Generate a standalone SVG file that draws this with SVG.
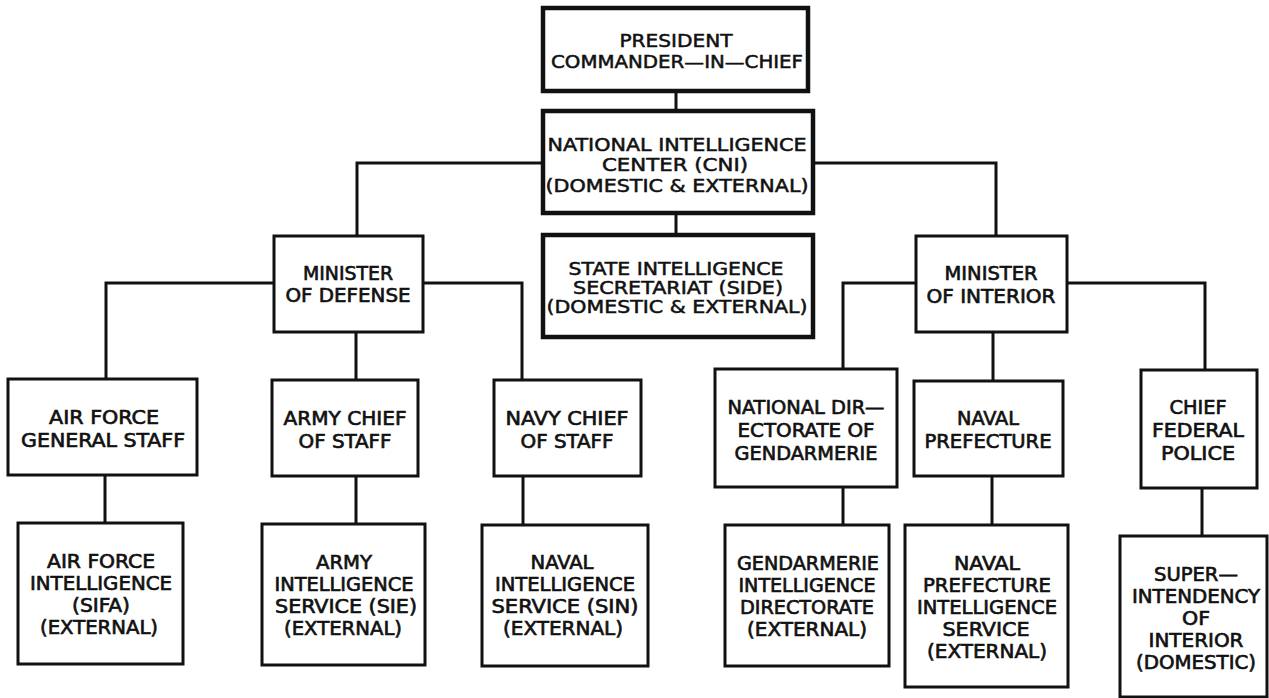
<svg xmlns="http://www.w3.org/2000/svg" width="1269" height="698" viewBox="0 0 1269 698">
<style>
.bx{fill:#fff;stroke:#111;stroke-width:3}
.bxt{fill:#fff;stroke:#111;stroke-width:4.5}
.ln{fill:none;stroke:#111;stroke-width:3;stroke-linecap:square}
.t{font-family:"DejaVu Sans Condensed","DejaVu Sans",sans-serif;font-stretch:condensed;font-size:19px;fill:#111;stroke:#111;stroke-width:0.6;text-anchor:middle}
.tt{font-family:"DejaVu Sans","Liberation Sans",sans-serif;font-size:17px;fill:#111;stroke:#111;stroke-width:0.5;text-anchor:middle}
</style>
<rect width="1269" height="698" fill="#fff"/>
<g id="connectors">
<path class="ln" d="M676 91V111"/>
<path class="ln" d="M676 213V235"/>
<path class="ln" d="M543 163H357V236"/>
<path class="ln" d="M813 163H996V236"/>
<path class="ln" d="M274 283H106V379"/>
<path class="ln" d="M356 332V380"/>
<path class="ln" d="M423 283H522V380"/>
<path class="ln" d="M916 283H843V369"/>
<path class="ln" d="M993 332V381"/>
<path class="ln" d="M1067 283H1205V370"/>
<path class="ln" d="M105 475V523"/>
<path class="ln" d="M356 476V524"/>
<path class="ln" d="M523 476V525"/>
<path class="ln" d="M843 487V525"/>
<path class="ln" d="M992 476V525"/>
<path class="ln" d="M1202 488V536"/>
</g>
<g id="president">
<rect class="bxt" x="543" y="8" width="265" height="83"/>
<text class="tt" x="676" y="47" textLength="113" lengthAdjust="spacingAndGlyphs">PRESIDENT</text>
<text class="tt" x="677" y="68" textLength="252" lengthAdjust="spacingAndGlyphs">COMMANDER—IN—CHIEF</text>
</g>
<g id="cni">
<rect class="bxt" x="543" y="111" width="270" height="102"/>
<text class="tt" x="677" y="151" textLength="259" lengthAdjust="spacingAndGlyphs">NATIONAL INTELLIGENCE</text>
<text class="tt" x="675" y="171" textLength="146" lengthAdjust="spacingAndGlyphs">CENTER (CNI)</text>
<text class="tt" x="677" y="192" textLength="263" lengthAdjust="spacingAndGlyphs">(DOMESTIC &amp; EXTERNAL)</text>
</g>
<g id="side">
<rect class="bxt" x="543" y="235" width="270" height="102"/>
<text class="tt" x="676" y="275" textLength="215" lengthAdjust="spacingAndGlyphs">STATE INTELLIGENCE</text>
<text class="tt" x="678" y="294" textLength="210" lengthAdjust="spacingAndGlyphs">SECRETARIAT (SIDE)</text>
<text class="tt" x="677" y="313" textLength="261" lengthAdjust="spacingAndGlyphs">(DOMESTIC &amp; EXTERNAL)</text>
</g>
<g id="min-defense">
<rect class="bx" x="274" y="236" width="149" height="96"/>
<text class="t" x="348" y="280" textLength="90" lengthAdjust="spacingAndGlyphs">MINISTER</text>
<text class="t" x="348" y="302" textLength="125" lengthAdjust="spacingAndGlyphs">OF DEFENSE</text>
</g>
<g id="min-interior">
<rect class="bx" x="916" y="236" width="151" height="96"/>
<text class="t" x="991" y="280" textLength="93" lengthAdjust="spacingAndGlyphs">MINISTER</text>
<text class="t" x="991" y="303" textLength="129" lengthAdjust="spacingAndGlyphs">OF INTERIOR</text>
</g>
<g id="af-staff">
<rect class="bx" x="8" y="379" width="189" height="96"/>
<text class="t" x="104" y="424" textLength="110" lengthAdjust="spacingAndGlyphs">AIR FORCE</text>
<text class="t" x="103" y="447" textLength="164" lengthAdjust="spacingAndGlyphs">GENERAL STAFF</text>
</g>
<g id="army-chief">
<rect class="bx" x="272" y="380" width="146" height="96"/>
<text class="t" x="345" y="425" textLength="123" lengthAdjust="spacingAndGlyphs">ARMY CHIEF</text>
<text class="t" x="345" y="448" textLength="93" lengthAdjust="spacingAndGlyphs">OF STAFF</text>
</g>
<g id="navy-chief">
<rect class="bx" x="494" y="380" width="147" height="96"/>
<text class="t" x="567" y="425" textLength="123" lengthAdjust="spacingAndGlyphs">NAVY CHIEF</text>
<text class="t" x="567" y="448" textLength="93" lengthAdjust="spacingAndGlyphs">OF STAFF</text>
</g>
<g id="gendarmerie">
<rect class="bx" x="715" y="369" width="182" height="118"/>
<text class="t" x="806" y="414" textLength="157" lengthAdjust="spacingAndGlyphs">NATIONAL DIR—</text>
<text class="t" x="806" y="437" textLength="137" lengthAdjust="spacingAndGlyphs">ECTORATE OF</text>
<text class="t" x="806" y="460" textLength="143" lengthAdjust="spacingAndGlyphs">GENDARMERIE</text>
</g>
<g id="naval-prefecture">
<rect class="bx" x="914" y="381" width="149" height="95"/>
<text class="t" x="988" y="425" textLength="62" lengthAdjust="spacingAndGlyphs">NAVAL</text>
<text class="t" x="988" y="448" textLength="127" lengthAdjust="spacingAndGlyphs">PREFECTURE</text>
</g>
<g id="federal-police">
<rect class="bx" x="1141" y="370" width="116" height="118"/>
<text class="t" x="1198" y="414" textLength="57" lengthAdjust="spacingAndGlyphs">CHIEF</text>
<text class="t" x="1198" y="437" textLength="92" lengthAdjust="spacingAndGlyphs">FEDERAL</text>
<text class="t" x="1198" y="460" textLength="74" lengthAdjust="spacingAndGlyphs">POLICE</text>
</g>
<g id="af-intel">
<rect class="bx" x="18" y="523" width="165" height="141"/>
<text class="t" x="101" y="568" textLength="108" lengthAdjust="spacingAndGlyphs">AIR FORCE</text>
<text class="t" x="101" y="590" textLength="142" lengthAdjust="spacingAndGlyphs">INTELLIGENCE</text>
<text class="t" x="101" y="612" textLength="58" lengthAdjust="spacingAndGlyphs">(SIFA)</text>
<text class="t" x="99" y="634" textLength="118" lengthAdjust="spacingAndGlyphs">(EXTERNAL)</text>
</g>
<g id="army-intel">
<rect class="bx" x="262" y="524" width="163" height="141"/>
<text class="t" x="344" y="569" textLength="56" lengthAdjust="spacingAndGlyphs">ARMY</text>
<text class="t" x="344" y="591" textLength="139" lengthAdjust="spacingAndGlyphs">INTELLIGENCE</text>
<text class="t" x="346" y="613" textLength="142" lengthAdjust="spacingAndGlyphs">SERVICE (SIE)</text>
<text class="t" x="343" y="635" textLength="118" lengthAdjust="spacingAndGlyphs">(EXTERNAL)</text>
</g>
<g id="naval-intel">
<rect class="bx" x="482" y="525" width="166" height="141"/>
<text class="t" x="562" y="569" textLength="63" lengthAdjust="spacingAndGlyphs">NAVAL</text>
<text class="t" x="565" y="591" textLength="140" lengthAdjust="spacingAndGlyphs">INTELLIGENCE</text>
<text class="t" x="565" y="613" textLength="147" lengthAdjust="spacingAndGlyphs">SERVICE (SIN)</text>
<text class="t" x="563" y="635" textLength="120" lengthAdjust="spacingAndGlyphs">(EXTERNAL)</text>
</g>
<g id="gend-intel">
<rect class="bx" x="725" y="525" width="164" height="141"/>
<text class="t" x="808" y="570" textLength="142" lengthAdjust="spacingAndGlyphs">GENDARMERIE</text>
<text class="t" x="807" y="592" textLength="137" lengthAdjust="spacingAndGlyphs">INTELLIGENCE</text>
<text class="t" x="807" y="614" textLength="134" lengthAdjust="spacingAndGlyphs">DIRECTORATE</text>
<text class="t" x="807" y="636" textLength="120" lengthAdjust="spacingAndGlyphs">(EXTERNAL)</text>
</g>
<g id="np-intel">
<rect class="bx" x="905" y="525" width="163" height="162"/>
<text class="t" x="987" y="570" textLength="66" lengthAdjust="spacingAndGlyphs">NAVAL</text>
<text class="t" x="987" y="592" textLength="128" lengthAdjust="spacingAndGlyphs">PREFECTURE</text>
<text class="t" x="987" y="614" textLength="140" lengthAdjust="spacingAndGlyphs">INTELLIGENCE</text>
<text class="t" x="986" y="636" textLength="87" lengthAdjust="spacingAndGlyphs">SERVICE</text>
<text class="t" x="987" y="658" textLength="120" lengthAdjust="spacingAndGlyphs">(EXTERNAL)</text>
</g>
<g id="superintendency">
<rect class="bx" x="1120" y="536" width="147" height="161"/>
<text class="t" x="1196" y="581" textLength="84" lengthAdjust="spacingAndGlyphs">SUPER—</text>
<text class="t" x="1196" y="603" textLength="128" lengthAdjust="spacingAndGlyphs">INTENDENCY</text>
<text class="t" x="1196" y="625" textLength="28" lengthAdjust="spacingAndGlyphs">OF</text>
<text class="t" x="1196" y="647" textLength="95" lengthAdjust="spacingAndGlyphs">INTERIOR</text>
<text class="t" x="1196" y="669" textLength="120" lengthAdjust="spacingAndGlyphs">(DOMESTIC)</text>
</g>
</svg>
